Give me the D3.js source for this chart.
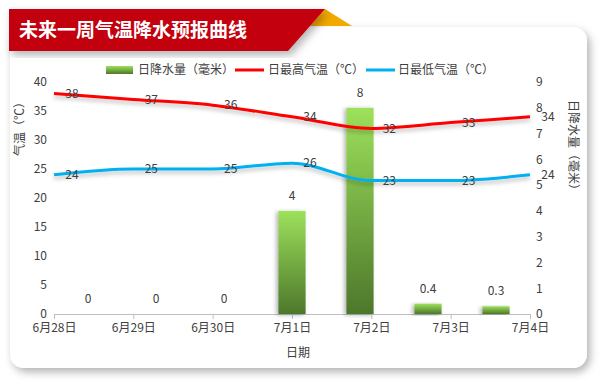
<!DOCTYPE html>
<html lang="zh">
<head>
<meta charset="utf-8">
<title>未来一周气温降水预报曲线</title>
<script src="https://d3js.org/d3.v7.min.js"></script>
<style>
  body { margin: 0; background: #fff; }
  svg text { font-family: "Noto Sans CJK SC", "Noto Sans", sans-serif; }
</style>
</head>
<body>
<script>
// data
const dates = ["6月28日", "6月29日", "6月30日", "7月1日", "7月2日", "7月3日", "7月4日"];
const rain = [0, 0, 0, 4, 8, 0.4, 0.3];          // 日降水量（毫米）
const tHigh = [38, 37, 36, 34, 32, 33, 34];      // 日最高气温（℃）
const tLow = [24, 25, 25, 26, 23, 23, 24];       // 日最低气温（℃）
const tempTicks = [0, 5, 10, 15, 20, 25, 30, 35, 40];
const rainTicks = [0, 1, 2, 3, 4, 5, 6, 7, 8, 9];

const W = 604, H = 387;
const txt = "#404040";

const svg = d3.select("body").append("svg")
    .attr("width", W).attr("height", H);

const defs = svg.append("defs");
defs.append("filter").attr("id", "cardShadow")
    .attr("x", "-5%").attr("y", "-5%").attr("width", "115%").attr("height", "120%")
  .append("feDropShadow")
    .attr("dx", 3).attr("dy", 4).attr("stdDeviation", 4)
    .attr("flood-color", "#000").attr("flood-opacity", 0.3);
defs.append("filter").attr("id", "lineShadow")
    .attr("x", "-5%").attr("y", "-50%").attr("width", "110%").attr("height", "200%")
  .append("feDropShadow")
    .attr("dx", 0).attr("dy", 3).attr("stdDeviation", 2)
    .attr("flood-color", "#000").attr("flood-opacity", 0.25);
defs.append("filter").attr("id", "barShadow")
    .attr("x", "-50%").attr("y", "-10%").attr("width", "200%").attr("height", "120%")
  .append("feDropShadow")
    .attr("dx", -2).attr("dy", 1).attr("stdDeviation", 2)
    .attr("flood-color", "#000").attr("flood-opacity", 0.3);
const grad = defs.append("linearGradient").attr("id", "barGrad")
    .attr("x1", 0).attr("y1", 0).attr("x2", 0).attr("y2", 1);
grad.append("stop").attr("offset", "0%").attr("stop-color", "#9de15b");
grad.append("stop").attr("offset", "100%").attr("stop-color", "#4d772b");

// card
svg.append("rect")
    .attr("x", 10).attr("y", 27).attr("width", 577).attr("height", 341)
    .attr("rx", 14).attr("fill", "#fff")
    .attr("filter", "url(#cardShadow)");

// title banner
svg.append("polygon")
    .attr("points", "325,9 352,26 310,26")
    .attr("fill", "#f2aa00");
svg.append("polygon")
    .attr("points", "9,9 325,9 288,51 9,51")
    .attr("fill", "#c3000b")
    .attr("filter", "url(#cardShadow)");
svg.append("text")
    .attr("x", 19).attr("y", 30).attr("dy", "0.35em")
    .attr("fill", "#fff")
    .style("font-size", "19px").style("font-weight", "bold")
    .text("未来一周气温降水预报曲线");

// scales
const x = d3.scalePoint().domain(dates).range([54, 530]);
const xb = d3.scaleBand().domain(dates).range([54, 530])
    .paddingInner(0.6).paddingOuter(0.3);
const yT = d3.scaleLinear().domain([0, 40]).range([314, 82]);
const yR = d3.scaleLinear().domain([0, 9]).range([314, 82]);

// axes
const gx = svg.append("g").attr("transform", "translate(0,314)")
    .call(d3.axisBottom(x).tickSize(5).tickPadding(4));
gx.select(".domain").attr("stroke", "#bfbfbf");
gx.selectAll(".tick line").attr("stroke", "#bfbfbf");
gx.selectAll(".tick text").attr("fill", txt).style("font-size", "12px");

const gl = svg.append("g").attr("transform", "translate(47,0)")
    .call(d3.axisLeft(yT).tickValues(tempTicks).tickSize(0).tickPadding(0));
gl.select(".domain").remove();
gl.selectAll(".tick text").attr("fill", txt).style("font-size", "12px");

const gr = svg.append("g").attr("transform", "translate(536,0)")
    .call(d3.axisRight(yR).tickValues(rainTicks).tickSize(0).tickPadding(0));
gr.select(".domain").remove();
gr.selectAll(".tick text").attr("fill", txt).style("font-size", "12px");

// axis titles
svg.append("text")
    .attr("transform", "translate(20,126) rotate(-90)")
    .attr("text-anchor", "middle").attr("dy", "0.35em")
    .attr("fill", txt).style("font-size", "12px")
    .text("气温（℃）");
svg.append("text")
    .attr("transform", "translate(573,148) rotate(90)")
    .attr("text-anchor", "middle").attr("dy", "0.35em")
    .attr("fill", txt).style("font-size", "12px")
    .text("日降水量（毫米）");
svg.append("text")
    .attr("x", 298).attr("y", 353).attr("dy", "0.35em")
    .attr("text-anchor", "middle")
    .attr("fill", txt).style("font-size", "12px")
    .text("日期");

// bars
const rows = dates.map((d, i) => ({ d, rain: rain[i], hi: tHigh[i], lo: tLow[i] }));

svg.append("g").selectAll("rect")
    .data(rows.filter(r => r.rain > 0))
    .join("rect")
    .attr("x", r => xb(r.d))
    .attr("width", xb.bandwidth())
    .attr("y", r => yR(r.rain))
    .attr("height", r => yR(0) - yR(r.rain))
    .attr("fill", "url(#barGrad)")
    .attr("filter", "url(#barShadow)");

svg.append("g").selectAll("text")
    .data(rows)
    .join("text")
    .attr("x", r => xb(r.d) + xb.bandwidth() / 2)
    .attr("y", r => yR(r.rain) - 15)
    .attr("dy", "0.35em")
    .attr("text-anchor", "middle")
    .attr("fill", txt).style("font-size", "12px")
    .text(r => r.rain);

// lines
const series = [
  { key: "hi", color: "#ff0000" },
  { key: "lo", color: "#00b0f0" }
];
series.forEach(s => {
  const line = d3.line()
      .x(r => x(r.d))
      .y(r => yT(r[s.key]))
      .curve(d3.curveMonotoneX);
  svg.append("path")
      .datum(rows)
      .attr("d", line)
      .attr("fill", "none")
      .attr("stroke", s.color)
      .attr("stroke-width", 3)
      .attr("filter", "url(#lineShadow)");
  svg.append("g").selectAll("text")
      .data(rows)
      .join("text")
      .attr("x", r => x(r.d) + 18)
      .attr("y", r => yT(r[s.key]))
      .attr("dy", "0.35em")
      .attr("text-anchor", "middle")
      .attr("fill", txt).style("font-size", "12px")
      .text(r => r[s.key]);
});

// legend
const lg = svg.append("g");
lg.append("rect").attr("x", 106).attr("y", 66).attr("width", 27).attr("height", 8)
    .attr("fill", "url(#barGrad)");
lg.append("text").attr("x", 138).attr("y", 70).attr("dy", "0.35em")
    .attr("fill", txt).style("font-size", "12px").text("日降水量（毫米）");
lg.append("line").attr("x1", 235).attr("x2", 264).attr("y1", 70).attr("y2", 70)
    .attr("stroke", "#ff0000").attr("stroke-width", 3);
lg.append("text").attr("x", 268).attr("y", 70).attr("dy", "0.35em")
    .attr("fill", txt).style("font-size", "12px").text("日最高气温（℃）");
lg.append("line").attr("x1", 366).attr("x2", 395).attr("y1", 70).attr("y2", 70)
    .attr("stroke", "#00b0f0").attr("stroke-width", 3);
lg.append("text").attr("x", 398).attr("y", 70).attr("dy", "0.35em")
    .attr("fill", txt).style("font-size", "12px").text("日最低气温（℃）");
</script>
</body>
</html>
